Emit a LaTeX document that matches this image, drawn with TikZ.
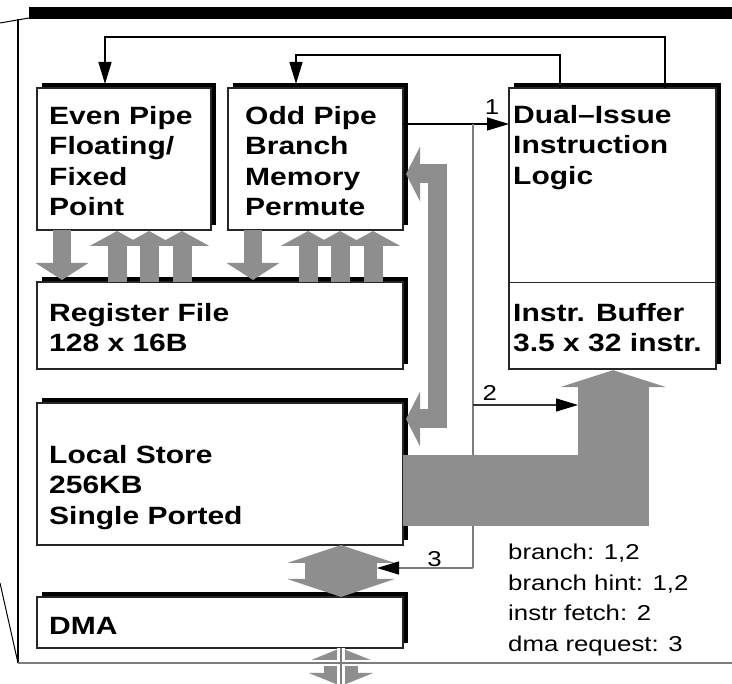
\documentclass[tikz,border=0pt]{standalone}
\usepackage{fontspec}
\setmainfont{Liberation Sans}[FakeStretch=1.2]
\usetikzlibrary{arrows.meta, shadows}

\definecolor{busgray}{RGB}{142,142,142}
\definecolor{wiregray}{RGB}{125,125,125}

\tikzset{
  unit/.style={draw=black!85, line width=1.2pt, fill=white, anchor=north west,
    inner sep=0pt, outer sep=0pt,
    drop shadow={shadow xshift=5pt, shadow yshift=5pt, opacity=1, fill=black}},
  boxtext/.style={anchor=north west, inner sep=0pt, align=left,
    font=\fontsize{25}{30.5}\selectfont\bfseries},
  notetext/.style={anchor=north west, inner sep=0pt, align=left,
    font=\fontsize{21.5}{30.5}\selectfont},
  tag/.style={inner sep=1pt, text=black, font=\fontsize{21.5}{24}\selectfont},
  sig/.style={line width=1.2pt, -{Triangle[length=22pt,width=13pt,color=black]}},
  fat/.style={busgray, line join=miter},
}

\begin{document}
\begin{tikzpicture}[x=1pt, y=-1pt]
\useasboundingbox (0,0) rectangle (732,684);

% frame of the chip
\fill (29,7) rectangle (732,19);
\draw[line width=1pt] (0,23) -- (29,18);
\draw[line width=1.2pt] (18,19) -- (18,663);
\draw[line width=1pt] (0,583) -- (18,663);

% units
\node[unit, minimum width=174, minimum height=142] (even) at (37,88) {};
\node[unit, minimum width=175, minimum height=142] (odd) at (228,88) {};
\node[unit, minimum width=207, minimum height=281] (logic) at (509,88) {};
\node[draw=black!85, line width=1.2pt, anchor=north west, inner sep=0pt,
  minimum width=207, minimum height=87] (ibuf) at (509,282) {};
\node[unit, minimum width=366, minimum height=87] (reg) at (37,282) {};
\node[unit, minimum width=366, minimum height=142] (ls) at (37,403) {};
\node[unit, minimum width=366, minimum height=51] (dma) at (37,597) {};

% issue paths
\draw[sig] ([xshift=-51]logic.north east) -- ++(0,-51) -| ([xshift=68,yshift=4]even.north west);
\draw[sig] ([xshift=51]logic.north west) -- ++(0,-33) -| ([xshift=68,yshift=4]odd.north west);
\draw[sig] ([yshift=-36]odd.north east) -- ([yshift=-36]logic.north west)
  node[tag, pos=0.84, above=8pt] (n1) {1};

% branch / fetch / dma request
\coordinate (tap) at (473,124);
\coordinate (fetch) at (578,405);
\coordinate (dmareq) at (377,568);
\draw[wiregray, line width=1.4pt] (tap) -- (tap |- dmareq);
\draw[sig, black!80] (tap |- fetch) -- (fetch) node[tag, pos=0.16, above=3pt] (n2) {2};
\draw[sig, wiregray] (tap |- dmareq) -- (dmareq) node[tag, pos=0.4, above=0pt] (n3) {3};

% wide data paths
\foreach \p in {even,odd}{
  \draw[fat, line width=18pt, -{Triangle[width=52pt,length=17pt]}]
    ([xshift=25]\p.south west) -- ([xshift=25,yshift=2]\p.south west |- reg.north);
  \foreach \dx in {80,112,145}
    \draw[fat, line width=19pt, -{Triangle[width=54pt,length=15pt]}]
      ([xshift=\dx]\p.south west |- reg.north) -- ([xshift=\dx,yshift=-1]\p.south west);
}
\draw[fat, line width=19pt, {Triangle[width=54pt,length=14pt]}-{Triangle[width=54pt,length=14pt]}]
  ([xshift=3,yshift=-86]odd.north east) -- ++(31,0) |- ([xshift=3,yshift=-16]ls.north east);
\draw[fat, line width=71pt, -{Triangle[width=106pt,length=17pt]}]
  ([yshift=-87.5]ls.north east) -| (ibuf.south);
\draw[fat, line width=72pt, {Triangle[width=107pt,length=18pt]}-{Triangle[width=107pt,length=18pt]}]
  ([xshift=304]ls.south west) -- ([xshift=304]dma.north west);
\draw[fat, line width=34pt, {Triangle[width=64pt,length=13pt]}-{Triangle[width=64pt,length=13pt]}]
  ([xshift=304]dma.south west) -- ++(0,38);
\draw[white, line width=6pt] (306,663) -- (376,663);
\draw[white, line width=8pt] ([xshift=304]dma.south west) -- ++(0,40);
\draw[wiregray, line width=1.5pt] (18,663) -- (732,663);
\draw[wiregray, line width=2pt] ([xshift=304]dma.south west) -- ++(0,40);

% texts
\node[boxtext] (evenT) at (49,106) {Even Pipe\\Floating/\\Fixed\\Point};
\node[boxtext] (oddT) at (245,106) {Odd Pipe\\Branch\\Memory\\Permute};
\node[boxtext] (logicT) at (513,105) {Dual–Issue\\Instruction\\Logic};
\node[boxtext] (ibufT) at (513,303) {Instr. Buffer\\3.5 x 32 instr.};
\node[boxtext] (regT) at (49,303) {Register File\\128 x 16B};
\node[boxtext] (lsT) at (49,445) {Local Store\\256KB\\Single Ported};
\node[boxtext] (dmaT) at (49,617) {DMA};
\node[notetext] (key) at (508,544) {branch: 1,2\\branch hint: 1,2\\instr fetch: 2\\dma request: 3};
\end{tikzpicture}
\end{document}
